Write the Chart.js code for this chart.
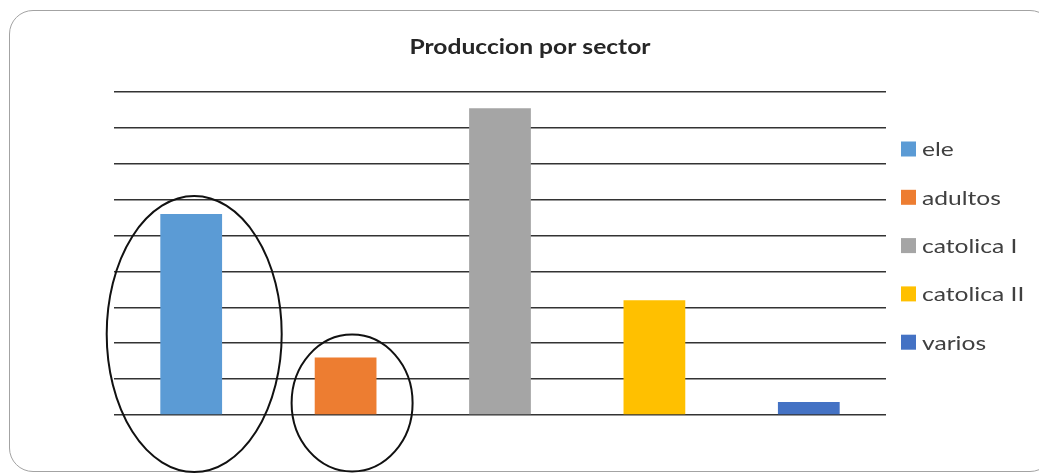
<!DOCTYPE html>
<html>
<head>
<meta charset="utf-8">
<script src="https://cdn.jsdelivr.net/npm/chart.js@4/dist/chart.umd.min.js"></script>
<style>
  html, body { margin: 0; padding: 0; background: #fff; overflow: hidden; }
  #frame {
    position: absolute; left: 9px; top: 10px; width: 1045px; height: 462px;
    border: 1.5px solid #a3a3a3; border-radius: 24px; box-sizing: border-box;
  }
  #wrap { position: absolute; left: 0; top: 0; width: 1039px; height: 475px; }
</style>
</head>
<body>
<div id="frame"></div>
<div id="wrap"><canvas id="chart" width="1039" height="475"></canvas></div>
<script>
// Sectors and their production values (one gridline = 1 unit)
const sectors = ['ele', 'adultos', 'catolica I', 'catolica II', 'varios'];
const production = [5.6, 1.6, 8.55, 3.2, 0.36];
const sectorColors = ['#5B9BD5', '#ED7D31', '#A5A5A5', '#FFC000', '#4472C4'];
const chartTitle = 'Produccion por sector';
const yMax = 9;

const FONT = 'Lato, "Open Sans", sans-serif';
// The whole chart graphic is widened horizontally, text included
const TEXT_STRETCH = 1.23;

// Hand-drawn rings around the first two sectors, placed relative to their bars
const rings = [
  { dataset: 0, dx: 3, dy: -81, rx: 87.5, ry: 138 },
  { dataset: 1, dx: 6.5, dy: -12, rx: 60.5, ry: 68.5 }
];

function stretchedText(ctx, text, x, y, align) {
  ctx.save();
  ctx.translate(x, y);
  ctx.scale(TEXT_STRETCH, 1);
  ctx.textAlign = align;
  ctx.fillText(text, 0, 0);
  ctx.restore();
}

const ringPlugin = {
  id: 'rings',
  afterDraw(chart) {
    const ctx = chart.ctx;
    const base = chart.scales.y.getPixelForValue(0);
    ctx.save();
    ctx.strokeStyle = '#111';
    ctx.lineWidth = 2;
    rings.forEach(r => {
      const bar = chart.getDatasetMeta(r.dataset).data[0];
      ctx.beginPath();
      ctx.ellipse(bar.x + r.dx, base + r.dy, r.rx, r.ry, 0, 0, Math.PI * 2);
      ctx.stroke();
    });
    ctx.restore();
  }
};

// Title centred over the full graphic
const wideTitle = {
  id: 'wideTitle',
  afterDraw(chart) {
    const ctx = chart.ctx;
    const pad = chart.options.layout.padding;
    ctx.save();
    ctx.font = 'bold 20px ' + FONT;
    ctx.fillStyle = '#262626';
    ctx.textBaseline = 'middle';
    stretchedText(ctx, chartTitle, (pad.left + chart.width) / 2, 48, 'center');
    ctx.restore();
  }
};

// Legend in the space reserved to the right of the plot
const sideLegend = {
  id: 'sideLegend',
  afterDraw(chart) {
    const ctx = chart.ctx;
    const area = chart.chartArea;
    const x0 = area.right + 15;
    const y0 = area.top + 57;
    const step = 48.3;
    ctx.save();
    ctx.font = '20px ' + FONT;
    ctx.textBaseline = 'middle';
    chart.data.datasets.forEach((ds, i) => {
      const cy = y0 + i * step;
      ctx.fillStyle = ds.backgroundColor;
      ctx.fillRect(x0, cy - 7.5, 15, 15);
      ctx.fillStyle = '#404040';
      stretchedText(ctx, ds.label, x0 + 21, cy + 1, 'left');
    });
    ctx.restore();
  }
};

new Chart(document.getElementById('chart'), {
  type: 'bar',
  data: {
    labels: [''],
    datasets: sectors.map((s, i) => ({
      label: s,
      data: [production[i]],
      backgroundColor: sectorColors[i],
      borderWidth: 0,
      categoryPercentage: 1,
      barPercentage: 0.4
    }))
  },
  options: {
    responsive: false,
    animation: false,
    layout: { padding: { left: 21, right: 0, top: 92, bottom: 60 } },
    plugins: {
      legend: { display: false },
      tooltip: { enabled: false },
      title: { display: false }
    },
    scales: {
      x: { display: false },
      y: {
        min: 0, max: yMax,
        ticks: { display: false, stepSize: 1 },
        border: { display: false },
        grid: { color: '#333', lineWidth: 1.5, drawTicks: false },
        afterFit: s => { s.width = 93; }
      },
      y2: {
        position: 'right',
        ticks: { display: false },
        border: { display: false },
        grid: { display: false, drawTicks: false },
        afterFit: s => { s.width = 153; }
      }
    }
  },
  plugins: [ringPlugin, wideTitle, sideLegend]
});
</script>
</body>
</html>
